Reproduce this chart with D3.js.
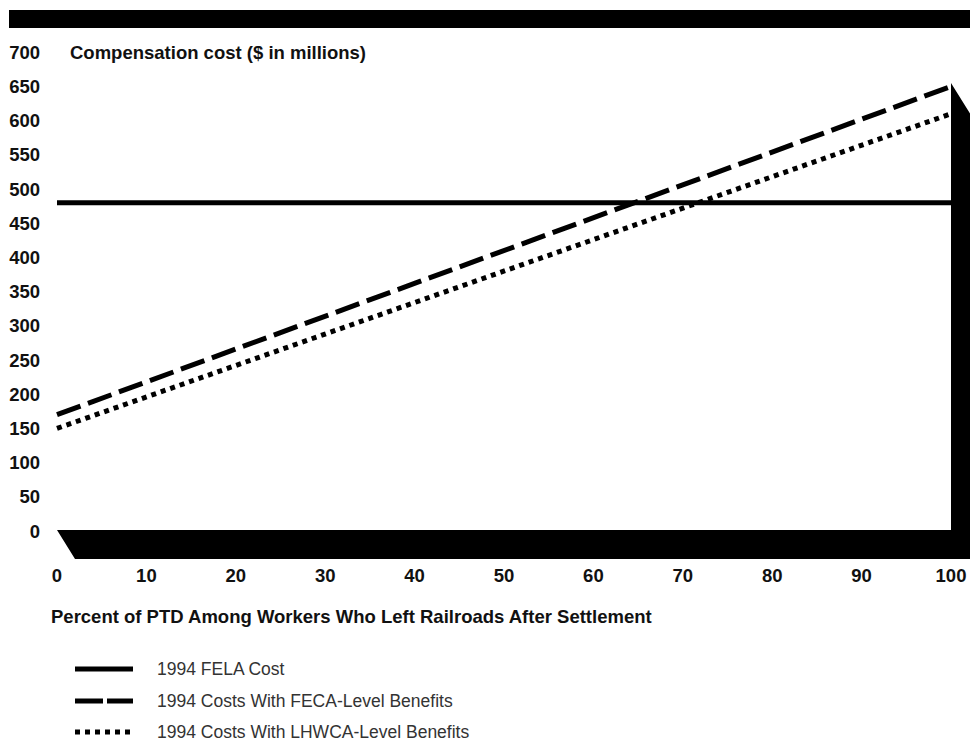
<!DOCTYPE html>
<html><head><meta charset="utf-8">
<script src="https://cdn.jsdelivr.net/npm/d3@7"></script>
<style>body{margin:0;background:#fff}svg{display:block}</style>
</head><body>
<svg id="c" width="970" height="742"></svg>
<script>
const xTicks = [0,10,20,30,40,50,60,70,80,90,100];
const yTicks = [0,50,100,150,200,250,300,350,400,450,500,550,600,650,700];
const pct = [0, 100];
const felaCost = [480, 480];
const fecaCost = [170, 650];
const lhwcaCost = [150, 610];
const seriesNames = ["1994 FELA Cost","1994 Costs With FECA-Level Benefits","1994 Costs With LHWCA-Level Benefits"];
const yTitle = "Compensation cost ($ in millions)";
const xTitle = "Percent of PTD Among Workers Who Left Railroads After Settlement";

const svg = d3.select("#c");
const x = d3.scaleLinear().domain([0,100]).range([57,951]);
const y = d3.scaleLinear().domain([0,700]).range([531,52.2]);
const dx = 18, dy = 29;
const bold = "Liberation Sans, Arial, Helvetica, sans-serif";
const fs = 18.5;

// top bar
svg.append("rect").attr("x",9).attr("y",10).attr("width",961).attr("height",18).attr("fill","#000");

// floor + right wall
const x0 = x(0), x1 = x(100), yb = y(0)-1, yTop = y(655);
svg.append("path").attr("fill","#000").attr("d",
  `M${x0},${yb} L${x0+dx},${yb+dy} L970,${yb+dy} L970,${yTop+(970-x1)*dy/dx} L${x1},${yTop} L${x1},${yb} Z`);

// y tick labels
svg.append("g").selectAll("text").data(yTicks).join("text")
  .attr("x",40).attr("y",d=>y(d)).attr("dy","0.36em").attr("text-anchor","end")
  .attr("font-family",bold).attr("font-weight","bold").attr("font-size",fs).attr("fill","#111").text(d=>d);
svg.append("text").attr("x",70).attr("y",y(700)).attr("dy","0.36em")
  .attr("font-family",bold).attr("font-weight","bold").attr("font-size",fs).attr("fill","#111").text(yTitle);

// x tick labels
svg.append("g").selectAll("text").data(xTicks).join("text")
  .attr("x",d=>x(d)).attr("y",575).attr("dy","0.36em").attr("text-anchor","middle")
  .attr("font-family",bold).attr("font-weight","bold").attr("font-size",fs).attr("fill","#111").text(d=>d);
svg.append("text").attr("x",51).attr("y",616).attr("dy","0.36em")
  .attr("font-family",bold).attr("font-weight","bold").attr("font-size",fs).attr("fill","#111").text(xTitle);

// lines
const styles = [
  {vals: felaCost, dash: null},
  {vals: fecaCost, dash: "25,8"},
  {vals: lhwcaCost, dash: "5,5"}
];
const line = d3.line().x(d=>x(d[0])).y(d=>y(d[1]));
styles.forEach(s=>{
  svg.append("path").attr("d", line(pct.map((p,i)=>[p,s.vals[i]])))
    .attr("fill","none").attr("stroke","#000").attr("stroke-width",5)
    .attr("stroke-dasharray", s.dash);
});

// legend
const legendDash = [null, "28,4", "5,5"];
const ly = [669, 701, 732];
seriesNames.forEach((n,i)=>{
  svg.append("line").attr("x1",75).attr("x2",133).attr("y1",ly[i]).attr("y2",ly[i])
    .attr("stroke","#000").attr("stroke-width",5).attr("stroke-dasharray",legendDash[i]);
  svg.append("text").attr("x",157).attr("y",ly[i]).attr("dy","0.34em")
    .attr("font-family","Liberation Sans, Arial, sans-serif").attr("font-size",17.5).attr("fill","#333").text(n);
});
</script>
</body></html>
